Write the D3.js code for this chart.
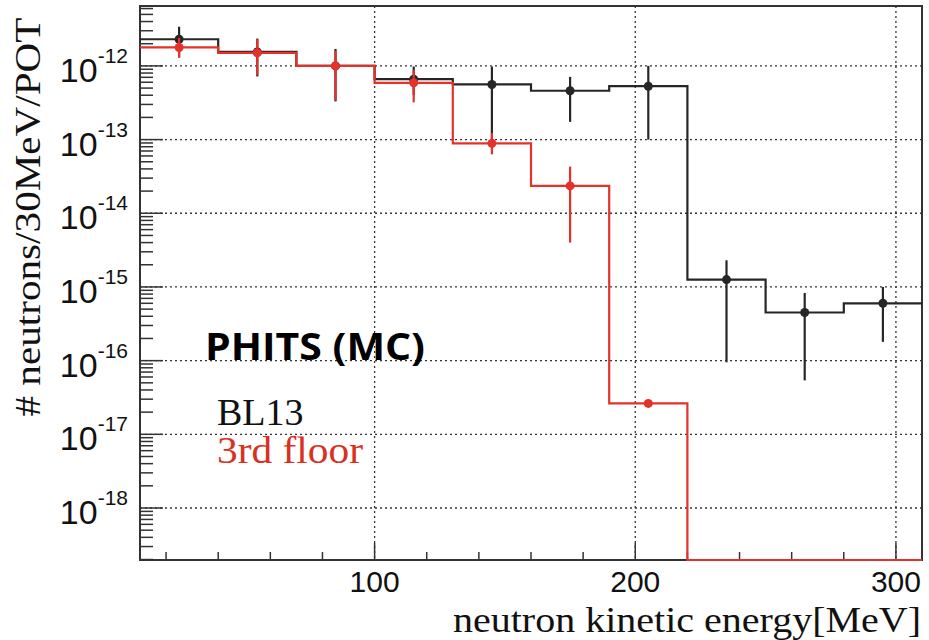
<!DOCTYPE html>
<html>
<head>
<meta charset="utf-8">
<script src="https://cdn.jsdelivr.net/npm/d3@7"></script>
<style>
  body { margin: 0; background: #fff; }
  svg { display: block; }
</style>
</head>
<body>
<div id="chart"></div>
<script>
// bin edges [MeV], 30 MeV wide
var binEdges = [10, 40, 70, 100, 130, 160, 190, 220, 250, 280, 310];
var binCenters = [25, 55, 85, 115, 145, 175, 205, 235, 265, 295];

// BL13
var bl13Values = [2.3e-12, 1.55e-12, 1.0e-12, 6.6e-13, 5.6e-13, 4.6e-13, 5.3e-13, 1.26e-15, 4.5e-16, 6.0e-16];
var bl13ErrHi  = [3.4e-12, 2.35e-12, 1.7e-12, 9.8e-13, 9.8e-13, 7.1e-13, 1.0e-12, 2.3e-15, 8.3e-16, 1.0e-15];
var bl13ErrLo  = [1.3e-12, 7.2e-13, 3.3e-13, 4.0e-13, 1.0e-13, 1.74e-13, 1.0e-13, 9.5e-17, 5.4e-17, 1.8e-16];

// 3rd floor
var floorValues = [1.78e-12, 1.5e-12, 1.0e-12, 5.9e-13, 8.9e-14, 2.35e-14, 2.63e-17, 0, 0, 0];
var floorErrHi  = [2.4e-12, 2.3e-12, 1.6e-12, 8.8e-13, 1.23e-13, 4.3e-14, 2.9e-17, 0, 0, 0];
var floorErrLo  = [1.3e-12, 7.5e-13, 3.4e-13, 3.2e-13, 6.3e-14, 4.0e-15, 2.4e-17, 0, 0, 0];

var yTickExps = [-12, -13, -14, -15, -16, -17, -18];
var xTickValues = [100, 200, 300];

var svgWidth = 929;
var svgHeight = 640;
var margin = { top: 6, right: 7, bottom: 80, left: 140 };
var width = svgWidth - margin.left - margin.right;
var height = svgHeight - margin.top - margin.bottom;

var serif = "'Liberation Serif', 'Times New Roman', serif";
var sans = "'Liberation Sans', Arial, sans-serif";

var svg = d3.select("#chart").append("svg")
  .attr("width", svgWidth)
  .attr("height", svgHeight);

var chartGroup = svg.append("g")
  .attr("transform", `translate(${margin.left}, ${margin.top})`);

var x = d3.scaleLinear().domain([10, 310]).range([0, width]);
var y = d3.scaleLog().domain([1.97e-19, 6.5e-12]).range([height, 0]);

function yPos(v) {
  return v > 0 ? y(v) : height;
}

var black = "#262626";
var red = "#e4322a";

// grid lines (dotted)
chartGroup.append("g").selectAll("line")
  .data(yTickExps)
  .enter().append("line")
  .attr("x1", 0).attr("x2", width)
  .attr("y1", d => y(Math.pow(10, d))).attr("y2", d => y(Math.pow(10, d)))
  .attr("stroke", "#333").attr("stroke-width", 1.3)
  .attr("stroke-dasharray", "2,3");

chartGroup.append("g").selectAll("line")
  .data(xTickValues)
  .enter().append("line")
  .attr("x1", d => x(d)).attr("x2", d => x(d))
  .attr("y1", 0).attr("y2", height)
  .attr("stroke", "#333").attr("stroke-width", 1.3)
  .attr("stroke-dasharray", "2,3");

// y ticks, ROOT style (inside the frame)
var yMinor = [];
for (var e = -19; e <= -12; e++) {
  for (var m = 2; m <= 9; m++) {
    var v = m * Math.pow(10, e);
    if (v >= y.domain()[0] && v <= y.domain()[1]) yMinor.push(v);
  }
}
chartGroup.append("g").selectAll("line")
  .data(yMinor)
  .enter().append("line")
  .attr("x1", 0).attr("x2", 13)
  .attr("y1", d => y(d)).attr("y2", d => y(d))
  .attr("stroke", "#333").attr("stroke-width", 1.5);

chartGroup.append("g").selectAll("line")
  .data(yTickExps)
  .enter().append("line")
  .attr("x1", 0).attr("x2", 23)
  .attr("y1", d => y(Math.pow(10, d))).attr("y2", d => y(Math.pow(10, d)))
  .attr("stroke", "#333").attr("stroke-width", 1.5);

// x ticks
var xMinor = d3.range(20, 311, 20).filter(d => d % 100 !== 0);
chartGroup.append("g").selectAll("line")
  .data(xMinor)
  .enter().append("line")
  .attr("x1", d => x(d)).attr("x2", d => x(d))
  .attr("y1", height).attr("y2", height - 8)
  .attr("stroke", "#333").attr("stroke-width", 1.5);

chartGroup.append("g").selectAll("line")
  .data(xTickValues)
  .enter().append("line")
  .attr("x1", d => x(d)).attr("x2", d => x(d))
  .attr("y1", height).attr("y2", height - 17)
  .attr("stroke", "#333").attr("stroke-width", 1.5);

// frame
chartGroup.append("rect")
  .attr("x", 0).attr("y", 0)
  .attr("width", width).attr("height", height)
  .attr("fill", "none")
  .attr("stroke", "#333")
  .attr("stroke-width", 2);

// y tick labels 10^n
var yLabels = chartGroup.append("g").selectAll("text")
  .data(yTickExps)
  .enter().append("text")
  .attr("x", -12)
  .attr("y", d => y(Math.pow(10, d)) + 16)
  .attr("text-anchor", "end")
  .attr("font-family", sans)
  .attr("font-size", "34px")
  .attr("fill", "#111");
yLabels.append("tspan").text("10");
yLabels.append("tspan")
  .attr("font-size", "21px")
  .attr("dy", -19)
  .text(d => d);

// x tick labels
chartGroup.append("g").selectAll("text")
  .data(xTickValues)
  .enter().append("text")
  .attr("x", d => x(d))
  .attr("y", height + 32)
  .attr("text-anchor", "middle")
  .attr("font-family", sans)
  .attr("font-size", "30px")
  .attr("fill", "#111")
  .text(d => d);

// histograms
var stepLine = d3.line()
  .x(d => x(d[0]))
  .y(d => yPos(d[1]))
  .curve(d3.curveStepAfter);

function histPoints(vals) {
  return binEdges.map((edge, i) => [edge, vals[Math.min(i, vals.length - 1)]]);
}

function drawSeries(vals, hi, lo, color) {
  chartGroup.append("path")
    .datum(histPoints(vals))
    .attr("d", stepLine)
    .attr("fill", "none")
    .attr("stroke", color)
    .attr("stroke-width", 2.2);

  var pts = binCenters.map((c, i) => ({ x: c, v: vals[i], hi: hi[i], lo: lo[i] }))
    .filter(d => d.v > 0);

  chartGroup.append("g").selectAll("line")
    .data(pts)
    .enter().append("line")
    .attr("x1", d => x(d.x)).attr("x2", d => x(d.x))
    .attr("y1", d => y(d.hi)).attr("y2", d => y(d.lo))
    .attr("stroke", color)
    .attr("stroke-width", 2.2);

  chartGroup.append("g").selectAll("circle")
    .data(pts)
    .enter().append("circle")
    .attr("cx", d => x(d.x))
    .attr("cy", d => y(d.v))
    .attr("r", 4.5)
    .attr("fill", color);
}

drawSeries(bl13Values, bl13ErrHi, bl13ErrLo, black);
drawSeries(floorValues, floorErrHi, floorErrLo, red);

// axis titles
svg.append("text")
  .attr("x", 921)
  .attr("y", 632)
  .attr("text-anchor", "end")
  .attr("font-family", serif)
  .attr("font-size", "36px")
  .attr("fill", "#111")
  .attr("textLength", 468)
  .attr("lengthAdjust", "spacingAndGlyphs")
  .text("neutron kinetic energy[MeV]");

svg.append("text")
  .attr("transform", "translate(40, 217) rotate(-90)")
  .attr("text-anchor", "middle")
  .attr("font-family", serif)
  .attr("font-size", "35px")
  .attr("fill", "#111")
  .attr("textLength", 399)
  .attr("lengthAdjust", "spacingAndGlyphs")
  .text("# neutrons/30MeV/POT");

// annotations
svg.append("text")
  .attr("x", 205)
  .attr("y", 360)
  .attr("font-family", "'Open Sans', Lato, sans-serif")
  .attr("font-weight", "bold")
  .attr("font-size", "38px")
  .attr("fill", "#000")
  .attr("textLength", 220)
  .attr("lengthAdjust", "spacingAndGlyphs")
  .text("PHITS (MC)");

svg.append("text")
  .attr("x", 217)
  .attr("y", 425)
  .attr("font-family", serif)
  .attr("font-size", "38px")
  .attr("fill", "#111")
  .text("BL13");

svg.append("text")
  .attr("x", 217)
  .attr("y", 463)
  .attr("font-family", serif)
  .attr("font-size", "38px")
  .attr("fill", "#d9301f")
  .attr("textLength", 146)
  .attr("lengthAdjust", "spacingAndGlyphs")
  .text("3rd floor");
</script>
</body>
</html>
